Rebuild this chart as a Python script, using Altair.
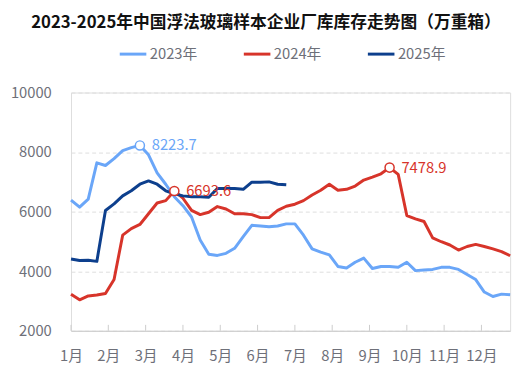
import altair as alt
import pandas as pd

weeks_label = ["1月", "2月", "3月", "4月", "5月", "6月", "7月", "8月", "9月", "10月", "11月", "12月"]
series_names = ["2023年", "2024年", "2025年"]
colors = ["#6AA6F8", "#D7342A", "#0D3F8D"]

v2023 = [6390, 6150, 6420, 7640, 7550, 7780, 8050, 8150, 8223.7, 7910,
         7300, 6920, 6500, 6200, 5820, 5045, 4570, 4530, 4600, 4770,
         5160, 5540, 5520, 5490, 5520, 5590, 5590, 5210, 4750, 4640,
         4550, 4160, 4110, 4300, 4440, 4090, 4160, 4160, 4130, 4300,
         4020, 4040, 4060, 4130, 4130, 4060, 3890, 3720, 3300, 3150,
         3230, 3210]
v2024 = [3230, 3040, 3170, 3200, 3250, 3720, 5210, 5430, 5570, 5930,
         6290, 6370, 6693.6, 6450, 6040, 5900, 5980, 6170, 6090, 5930,
         5930, 5900, 5800, 5800, 6040, 6180, 6250, 6370, 6560, 6720,
         6920, 6720, 6750, 6860, 7060, 7160, 7270, 7478.9, 7250, 5870,
         5760, 5670, 5120, 4990, 4880, 4710, 4830, 4900, 4830, 4750,
         4660, 4520]
v2025 = [4410, 4360, 4370, 4330, 6040, 6260, 6530, 6700, 6920, 7030,
         6920, 6700, 6600, 6530, 6500, 6500, 6480, 6780, 6780, 6780,
         6750, 6990, 6990, 7000, 6920, 6900]

rows = []
for name, vals in zip(series_names, [v2023, v2024, v2025]):
    for i, v in enumerate(vals):
        rows.append({"series": name, "week": i, "value": v})
df = pd.DataFrame(rows)

peak_series = ["2023年", "2024年", "2024年"]
peak_week = [8, 12, 37]
peak_value = [8223.7, 6693.6, 7478.9]
peaks = pd.DataFrame({"series": peak_series, "week": peak_week, "value": peak_value,
                      "label": [f"{v:.1f}" for v in peak_value]})

tick_vals = [k * 52 / 12 for k in range(12)]
ticks = pd.DataFrame({"week": tick_vals})
label_expr = "['1月','2月','3月','4月','5月','6月','7月','8月','9月','10月','11月','12月'][round(datum.value*12/52)]"

FONT = "Noto Sans CJK SC"

x_enc = alt.X("week:Q", scale=alt.Scale(domain=[0, 51], nice=False, zero=False),
              axis=alt.Axis(values=tick_vals, labelExpr=label_expr, title=None,
                            grid=False, ticks=False, domain=True, domainColor="#CCCCCC",
                            labelColor="#6E7079", labelFont=FONT, labelFontSize=15,
                            labelPadding=18, labelFlush=False))
y_enc = alt.Y("value:Q", scale=alt.Scale(domain=[2000, 10000], nice=False),
              axis=alt.Axis(values=[2000, 4000, 6000, 8000, 10000], title=None, format="d",
                            domain=False, ticks=False, grid=True, gridColor="#DDDDDD",
                            gridDash=[4, 3], labelColor="#6E7079", labelFont=FONT,
                            labelFontSize=15, labelPadding=20))

lines = alt.Chart(df).mark_line(strokeWidth=3, strokeJoin="round").encode(
    x=x_enc, y=y_enc,
    color=alt.Color("series:N", scale=alt.Scale(domain=series_names, range=colors),
                    legend=alt.Legend(title=None, orient="none", legendX=48, legendY=-54,
                                      direction="horizontal", symbolType="stroke",
                                      symbolSize=729, symbolStrokeWidth=3,
                                      labelFont=FONT, labelFontSize=15, labelColor="#6E7079",
                                      labelOffset=2, columnPadding=40)),
    detail="series:N",
)

axis_ticks = alt.Chart(ticks).mark_rule(color="#CCCCCC", strokeWidth=1).encode(
    x="week:Q", y=alt.value(236), y2=alt.value(242))

pts = alt.Chart(peaks).mark_point(shape="circle", filled=True, fill="white", size=85,
                                  strokeWidth=1.5, opacity=1).encode(
    x="week:Q", y="value:Q",
    stroke=alt.Stroke("series:N", scale=alt.Scale(domain=series_names, range=colors), legend=None))

txt = alt.Chart(peaks).mark_text(align="left", baseline="middle", dx=12, font=FONT,
                                 fontSize=15).encode(
    x="week:Q", y="value:Q", text="label:N",
    fill=alt.Fill("series:N", scale=alt.Scale(domain=series_names, range=colors), legend=None))

chart = alt.layer(axis_ticks, lines, pts, txt).properties(
    width=446, height=242,
    title=alt.Title("2023-2025年中国浮法玻璃样本企业厂库库存走势图（万重箱）",
                    font=FONT, fontSize=17, fontWeight="bold", color="#111111",
                    anchor="middle", dx=-25, offset=8),
    autosize=alt.AutoSizeParams(type="none"),
    padding={"left": 64, "top": 83, "right": 9, "bottom": 37},
).configure_view(stroke=None).configure(background="white")

chart.save("out.html", embed_options={"renderer": "svg", "actions": False})
